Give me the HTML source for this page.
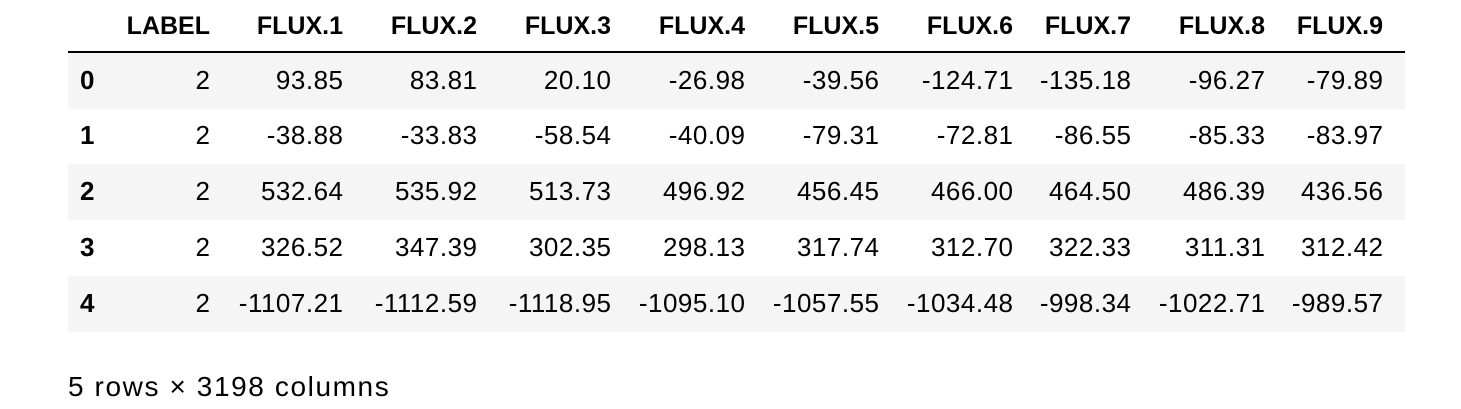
<!DOCTYPE html>
<html><head><meta charset="utf-8"><style>
body{margin:0;width:1461px;height:409px;background:#fff;font-family:"Liberation Sans",Arial,sans-serif;color:#000;position:relative;overflow:hidden}
.c{position:absolute;font-size:24px;line-height:26px;white-space:nowrap}
.r{transform:translateX(-100%)}
.n{font-size:26px;letter-spacing:0.5px;margin-left:0.5px;margin-top:-1px}
.b{font-weight:bold}
.i{font-size:26px;margin-top:-1px}
.h{font-size:25px}
.stripe{position:absolute;left:68px;width:1337px;height:56px;background:#f5f5f5}
</style></head><body>
<div style="position:absolute;left:68px;top:50.5px;width:1337px;height:2px;background:#000"></div>
<div class="stripe" style="top:52.5px"></div>
<div class="stripe" style="top:164.3px"></div>
<div class="stripe" style="top:276.1px"></div>
<div id="t"></div>
<div class="c" style="left:68px;top:373px;font-size:28px;line-height:28px;letter-spacing:1.6px">5 rows × 3198 columns</div>
<script>
const headers=["LABEL","FLUX.1","FLUX.2","FLUX.3","FLUX.4","FLUX.5","FLUX.6","FLUX.7","FLUX.8","FLUX.9"];
const rows=[
["2","93.85","83.81","20.10","-26.98","-39.56","-124.71","-135.18","-96.27","-79.89"],
["2","-38.88","-33.83","-58.54","-40.09","-79.31","-72.81","-86.55","-85.33","-83.97"],
["2","532.64","535.92","513.73","496.92","456.45","466.00","464.50","486.39","436.56"],
["2","326.52","347.39","302.35","298.13","317.74","312.70","322.33","311.31","312.42"],
["2","-1107.21","-1112.59","-1118.95","-1095.10","-1057.55","-1034.48","-998.34","-1022.71","-989.57"]];
const rightEdges=[210,343,477,611,745,879,1013,1131,1265,1383];
const t=document.getElementById('t');
function cell(txt,x,y,cls,name){const d=document.createElement('div');d.className='c '+cls;d.style.left=x+'px';d.style.top=y+'px';d.textContent=txt;


t.appendChild(d);}
headers.forEach((h,i)=>cell(h,rightEdges[i],13,'r b h','header-'+h.toLowerCase().replace('.','-')));
rows.forEach((r,ri)=>{const y=52.5+ri*55.9+15;
cell(String(ri),80,y,'b i','row-index-'+ri);
r.forEach((v,ci)=>cell(v,rightEdges[ci],y,'r n','cell-'+ri+'-'+ci));});
</script>
</body></html>
